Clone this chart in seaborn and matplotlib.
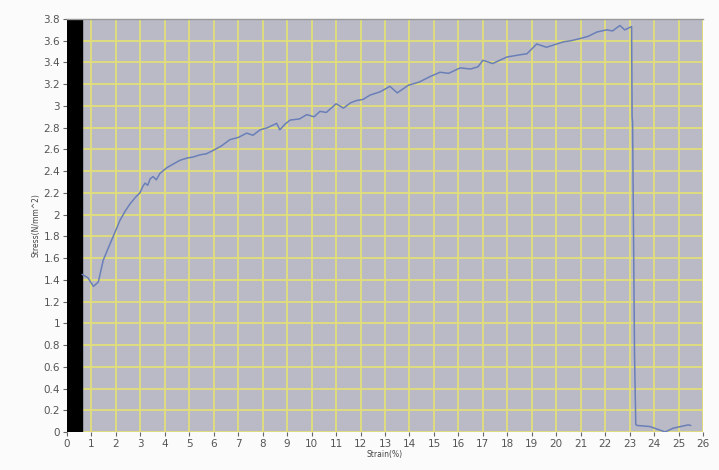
import matplotlib
matplotlib.use("Agg")
import matplotlib.pyplot as plt
import seaborn as sns
import pandas as pd

strain = [0.62, 0.85, 1.08, 1.28, 1.48, 1.7, 1.89, 2.17, 2.4, 2.58, 2.8, 2.98, 3.1, 3.19, 3.3, 3.4, 3.52, 3.65, 3.8, 4.07, 4.3, 4.62, 4.9, 5.15, 5.44, 5.7, 5.97, 6.3, 6.66, 7.0, 7.35, 7.6, 7.89, 8.2, 8.57, 8.7, 8.9, 9.12, 9.5, 9.8, 10.1, 10.34, 10.6, 11.0, 11.3, 11.6, 11.84, 12.1, 12.39, 12.8, 13.2, 13.5, 13.95, 14.4, 14.84, 15.25, 15.6, 16.07, 16.5, 16.8, 17.0, 17.4, 17.98, 18.5, 18.8, 19.2, 19.6, 20.3, 20.6, 20.97, 21.3, 21.66, 22.06, 22.3, 22.6, 22.8, 23.08, 23.1, 23.12, 23.2, 23.25, 23.3, 23.83, 24.45, 24.78, 25.39, 25.5]
stress = [1.45, 1.42, 1.34, 1.38, 1.58, 1.70, 1.80, 1.95, 2.04, 2.10, 2.16, 2.20, 2.26, 2.29, 2.27, 2.33, 2.35, 2.32, 2.38, 2.43, 2.46, 2.50, 2.52, 2.53, 2.55, 2.56, 2.59, 2.63, 2.69, 2.71, 2.75, 2.73, 2.78, 2.80, 2.84, 2.78, 2.83, 2.87, 2.88, 2.92, 2.90, 2.95, 2.94, 3.02, 2.98, 3.03, 3.05, 3.06, 3.10, 3.13, 3.18, 3.12, 3.19, 3.22, 3.27, 3.31, 3.30, 3.35, 3.34, 3.36, 3.42, 3.39, 3.45, 3.47, 3.48, 3.57, 3.54, 3.59, 3.60, 3.62, 3.64, 3.68, 3.70, 3.69, 3.74, 3.70, 3.73, 2.90, 2.85, 0.70, 0.07, 0.06, 0.05, 0.00, 0.035, 0.065, 0.06]

xticks = list(range(0, 27))
yticks = [round(0.2 * i, 1) for i in range(0, 20)]

df = pd.DataFrame({"Strain": strain, "Stress": stress})

sns.set_theme(style="white")
plt.rcParams['font.family'] = ['DejaVu Sans']

fig = plt.figure(figsize=(7.19, 4.70), dpi=100)
ax = fig.add_axes([0.0932, 0.0809, 0.8846, 0.8787])
ax.set_facecolor("#babac6")

ax.set_xlim(0, 26)
ax.set_ylim(0, 3.8)
ax.set_xticks(xticks)
ax.set_yticks(yticks)
ax.set_xticklabels([f"{v:g}" for v in xticks], fontsize=7.5, color="#555555")
ax.set_yticklabels([f"{v:g}" for v in yticks], fontsize=7.5, color="#555555")
ax.grid(True, color="#e2de78", linewidth=1.3, zorder=0)
ax.set_axisbelow(True)
ax.tick_params(axis="both", length=3, width=0.8, color="#666666", direction="out", pad=2,
               bottom=True, left=True)

ax.axvspan(0, 0.6, color="black", zorder=1)

sns.lineplot(data=df, x="Strain", y="Stress", ax=ax, sort=False, estimator=None,
             color="#6a7fb8", linewidth=1.1, zorder=3)

ax.set_xlabel("Strain(%)", fontsize=5.5, color="#444444", labelpad=1)
ax.set_ylabel("Stress(N/mm^2)", fontsize=5.5, color="#444444", labelpad=2)

for s in ["left", "bottom", "right"]:
    ax.spines[s].set_visible(False)
ax.spines["top"].set_color("#999999")
ax.spines["top"].set_linewidth(1.0)

fig.savefig("out.png", dpi=100, facecolor="#fbfbfb")
